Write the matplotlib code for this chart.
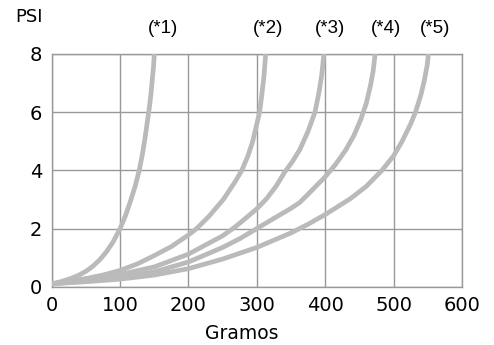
import matplotlib
matplotlib.use("Agg")
import matplotlib.pyplot as plt

# curves (Gramos, PSI)
X1 = [0, 10, 20, 30, 40, 50, 60, 70, 80, 90, 100, 108, 115, 122, 128, 133,
      137, 140, 143, 145, 147, 149, 150]
Y1 = [0.1, 0.15, 0.22, 0.3, 0.4, 0.53, 0.7, 0.92, 1.2, 1.55, 2.0, 2.45, 2.93,
      3.45, 4.0, 4.6, 5.2, 5.7, 6.2, 6.6, 7.1, 7.6, 8.0]

X2 = [0, 25, 50, 75, 100, 125, 150, 175, 200, 212, 230, 251, 268, 278, 287,
      294, 299, 304, 307, 310, 313]
Y2 = [0.1, 0.18, 0.28, 0.4, 0.56, 0.78, 1.07, 1.38, 1.78, 2.0, 2.42, 3.0, 3.6,
      4.0, 4.5, 5.0, 5.5, 6.0, 6.55, 7.15, 8.0]

X3 = [0, 50, 100, 150, 200, 250, 268, 285, 300, 314, 328, 341, 352, 363, 375,
      385, 391, 395, 398]
Y3 = [0.1, 0.25, 0.42, 0.68, 1.12, 1.75, 2.05, 2.38, 2.68, 3.02, 3.45, 3.95,
      4.3, 4.72, 5.35, 6.0, 6.7, 7.3, 8.0]

X4 = [0, 50, 100, 150, 200, 250, 275, 300, 325, 349, 363, 380, 400, 415, 430,
      442, 452, 460, 466, 470, 473]
Y4 = [0.1, 0.2, 0.32, 0.51, 0.85, 1.35, 1.65, 2.0, 2.35, 2.68, 2.9, 3.3, 3.78,
      4.2, 4.7, 5.2, 5.75, 6.3, 6.9, 7.4, 8.0]

X5 = [0, 50, 100, 150, 200, 250, 300, 350, 375, 400, 437, 460, 483, 500, 512,
      525, 532, 540, 545, 549, 551]
Y5 = [0.1, 0.17, 0.26, 0.4, 0.62, 0.95, 1.35, 1.85, 2.15, 2.48, 3.03, 3.45, 4.0,
      4.5, 4.98, 5.6, 6.0, 6.6, 7.1, 7.6, 8.0]

LABELS = ["(*1)", "(*2)", "(*3)", "(*4)", "(*5)"]
LABEL_X = [163, 316, 407, 489, 561]

XTICKS = [0, 100, 200, 300, 400, 500, 600]
YTICKS = [0, 2, 4, 6, 8]

GRID = "#999999"
CURVE = "#bababa"

fig = plt.figure(figsize=(4.94, 3.45), dpi=100)
ax = fig.add_axes([0.1047, 0.169, 0.8305, 0.6745])

for xs, ys in [(X1, Y1), (X2, Y2), (X3, Y3), (X4, Y4), (X5, Y5)]:
    ax.plot(xs, ys, color=CURVE, lw=3.4, solid_capstyle="butt",
            solid_joinstyle="round", zorder=3)

ax.set_xlim(0, 600)
ax.set_ylim(0, 8)
ax.set_xticks(XTICKS)
ax.set_yticks(YTICKS)
ax.grid(True, color=GRID, lw=1.0)
ax.set_axisbelow(True)
for s in ax.spines.values():
    s.set_color(GRID)
    s.set_linewidth(1.0)
ax.tick_params(length=0, labelsize=14, pad=7)

ax.set_xlabel("Gramos", fontsize=13.5, va="center")
ax.xaxis.set_label_coords(0.464, -0.199)

fig.text(29 / 494, 1 - 17 / 345, "PSI", fontsize=13, ha="center", va="center")

for lab, lx in zip(LABELS, LABEL_X):
    ax.text(lx, 8.89, lab, fontsize=13.5, ha="center", va="center",
            family="Liberation Sans", clip_on=False)

fig.savefig("out.png", dpi=100)
